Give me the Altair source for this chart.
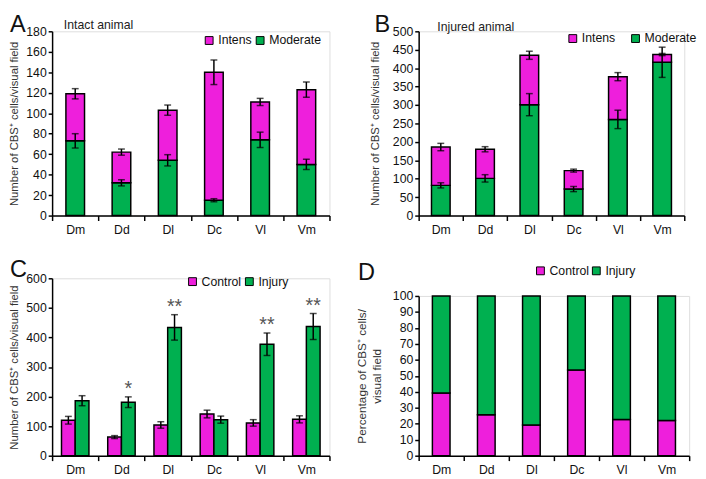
import altair as alt
import pandas as pd

FONT = "Liberation Sans"
MAG = "#EE1FDC"
GREEN = "#00B050"

regions = ["Dm", "Dd", "Dl", "Dc", "Vl", "Vm"]

# Panel A: intact animal
a_moderate = [73, 32, 54, 15, 74, 50]
a_moderate_err = [7, 3, 5.5, 1.5, 7.5, 5]
a_total = [119, 62, 103, 140, 111, 123]
a_total_err = [5, 3, 5, 12, 3.5, 7.5]
a_ticks = [0, 20, 40, 60, 80, 100, 120, 140, 160, 180]

# Panel B: injured animal
b_moderate = [82, 101, 301, 72, 261, 416]
b_moderate_err = [7, 10, 30, 7, 25, 41]
b_total = [186, 180, 435, 122, 377, 437]
b_total_err = [10, 7, 11, 4, 11, 3]
b_ticks = [0, 50, 100, 150, 200, 250, 300, 350, 400, 450, 500]

# Panel C: control vs injury
c_control = [120, 63, 104, 141, 111, 123]
c_control_err = [13, 5, 11, 13, 11, 12]
c_injury = [186, 181, 434, 122, 377, 437]
c_injury_err = [17, 18, 43, 12, 38, 44]
c_stars = ["", "*", "**", "", "**", "**"]
c_ticks = [0, 100, 200, 300, 400, 500, 600]

# Panel D: percentage
d_control = [39.3, 25.7, 19.2, 53.6, 22.7, 22.1]
d_injury = [60.7, 74.3, 80.8, 46.4, 77.3, 77.9]
d_ticks = [0, 10, 20, 30, 40, 50, 60, 70, 80, 90, 100]

YTITLE = "Number of CBS\u207a cells/visual field"


def x_enc():
    return alt.X(
        "region:N",
        sort=regions,
        scale=alt.Scale(domain=regions, paddingInner=0, paddingOuter=0),
        axis=alt.Axis(title=None, labelAngle=0, tickBand="extent", tickSize=5,
                      labelPadding=3, labelFontSize=12.5, labelColor="#111"),
    )


def y_enc(field, domain, ticks, title, tpad):
    return alt.Y(
        field,
        type="quantitative",
        scale=alt.Scale(domain=domain, nice=False),
        axis=alt.Axis(values=ticks, title=title, titlePadding=tpad, tickSize=4,
                      labelPadding=2),
    )


def legend(x, y, domain, colpad):
    return alt.Legend(
        orient="none", legendX=x, legendY=y, direction="horizontal", title=None,
        symbolType="square", symbolSize=64, symbolStrokeColor="black",
        symbolStrokeWidth=1, labelFontSize=12.5, labelColor="#111",
        labelOffset=3, columnPadding=colpad, values=domain,
    )


def label(text, x, y, size=24):
    return alt.Chart(pd.DataFrame({"t": [text]})).mark_text(
        align="left", baseline="top", fontSize=size, font=FONT, color="#111"
    ).encode(text="t:N", x=alt.value(x), y=alt.value(y))


def note(text, x, y):
    return alt.Chart(pd.DataFrame({"t": [text]})).mark_text(
        align="left", baseline="middle", fontSize=12.5, font=FONT, color="#222"
    ).encode(text="t:N", x=alt.value(x), y=alt.value(y))


def stacked_panel(mod, mod_err, tot, tot_err, ticks, domain, w, h, tpad,
                  letter, lpos, notetext, npos, leg, colpad):
    bars = pd.DataFrame({
        "region": regions * 2,
        "series": ["Moderate"] * 6 + ["Intens"] * 6,
        "lo": [0] * 6 + mod,
        "hi": mod + tot,
    })
    errs = pd.DataFrame({
        "region": regions * 2,
        "lo": [m - e for m, e in zip(mod, mod_err)] + [t - e for t, e in zip(tot, tot_err)],
        "hi": [m + e for m, e in zip(mod, mod_err)] + [t + e for t, e in zip(tot, tot_err)],
    })
    sdom = ["Intens", "Moderate"]
    b = alt.Chart(bars).mark_bar(size=19, stroke="black", strokeWidth=1.5).encode(
        x=x_enc(),
        y=y_enc("lo", domain, ticks, YTITLE, tpad),
        y2="hi:Q",
        color=alt.Color("series:N", scale=alt.Scale(domain=sdom, range=[MAG, GREEN]),
                        legend=legend(leg[0], leg[1], sdom, colpad)),
    )
    r = alt.Chart(errs).mark_rule(color="black", strokeWidth=1.5).encode(
        x=x_enc(), y=y_enc("lo", domain, ticks, YTITLE, tpad), y2="hi:Q")
    t1 = alt.Chart(errs).mark_tick(color="black", size=7, thickness=1.5).encode(
        x=x_enc(), y=y_enc("lo", domain, ticks, YTITLE, tpad))
    t2 = alt.Chart(errs).mark_tick(color="black", size=7, thickness=1.5).encode(
        x=x_enc(), y=y_enc("hi", domain, ticks, YTITLE, tpad))
    return alt.layer(b, r, t1, t2, label(letter, *lpos), note(notetext, *npos)).properties(
        width=w, height=h)


A = stacked_panel(a_moderate, a_moderate_err, a_total, a_total_err, a_ticks, [0, 180],
                  283, 188, 6, "A", (-43, -18), "Intact animal", (12, -6), (154, 3), 2)
B = stacked_panel(b_moderate, b_moderate_err, b_total, b_total_err, b_ticks, [0, 500],
                  271, 188, 12, "B", (-45, -18), "Injured animal", (19, -4), (151, 1), 14)

# Panel C
cdf = pd.DataFrame({
    "region": regions * 2,
    "series": ["Control"] * 6 + ["Injury"] * 6,
    "val": c_control + c_injury,
    "lo": [v - e for v, e in zip(c_control, c_control_err)] + [v - e for v, e in zip(c_injury, c_injury_err)],
    "hi": [v + e for v, e in zip(c_control, c_control_err)] + [v + e for v, e in zip(c_injury, c_injury_err)],
    "star": [""] * 6 + c_stars,
})
cdom = ["Control", "Injury"]
c_layers = []
for s, off in (("Control", -7), ("Injury", 7)):
    base = alt.Chart(cdf).transform_filter(alt.datum.series == s)
    c_layers.append(base.mark_bar(size=14, xOffset=off, stroke="black", strokeWidth=1.5).encode(
        x=x_enc(), y=y_enc("val", [0, 600], c_ticks, YTITLE, 6),
        color=alt.Color("series:N", scale=alt.Scale(domain=cdom, range=[MAG, GREEN]),
                        legend=legend(137, -3, cdom, 2))))
    c_layers.append(base.mark_rule(xOffset=off, color="black", strokeWidth=1.5).encode(
        x=x_enc(), y=y_enc("lo", [0, 600], c_ticks, YTITLE, 6), y2="hi:Q"))
    c_layers.append(base.mark_tick(xOffset=off, color="black", size=7, thickness=1.5).encode(
        x=x_enc(), y=y_enc("lo", [0, 600], c_ticks, YTITLE, 6)))
    c_layers.append(base.mark_tick(xOffset=off, color="black", size=7, thickness=1.5).encode(
        x=x_enc(), y=y_enc("hi", [0, 600], c_ticks, YTITLE, 6)))
stars = alt.Chart(cdf).transform_filter(alt.datum.series == "Injury").mark_text(
    xOffset=7, dy=-2, baseline="alphabetic", fontSize=20, font=FONT, color="#555"
).encode(x=x_enc(), y=y_enc("hi", [0, 600], c_ticks, YTITLE, 6), text="star:N")
C = alt.layer(*c_layers, stars, label("C", -43, -20)).properties(width=283, height=181)

# Panel D
ddf = pd.DataFrame({
    "region": regions * 2,
    "series": ["Control"] * 6 + ["Injury"] * 6,
    "lo": [0] * 6 + d_control,
    "hi": d_control + [c + i for c, i in zip(d_control, d_injury)],
})
DTITLE = ["Percentage of CBS\u207a cells/", "visual field"]
D = alt.layer(
    alt.Chart(ddf).mark_bar(size=18, stroke="black", strokeWidth=1.5).encode(
        x=x_enc(),
        y=alt.Y("lo:Q", scale=alt.Scale(domain=[0, 100], nice=False),
                axis=alt.Axis(values=d_ticks, title=DTITLE, titlePadding=9, tickSize=4,
                              labelPadding=2, titleLineHeight=15, titleFontSize=12)),
        y2="hi:Q",
        color=alt.Color("series:N", scale=alt.Scale(domain=cdom, range=[MAG, GREEN]),
                        legend=legend(118, -32, cdom, 1)),
    ),
    label("D", -62, -35),
).properties(width=276, height=163)

col1 = alt.vconcat(A, C, spacing=64, bounds="flush").resolve_scale(
    x="independent", y="independent", color="independent").resolve_legend(color="independent")
col2 = alt.vconcat(B, D, spacing=82, bounds="flush").resolve_scale(
    x="independent", y="independent", color="independent").resolve_legend(color="independent")
chart = alt.hconcat(col1, col2, spacing=24).resolve_scale(
    x="independent", y="independent", color="independent").resolve_legend(
    color="independent").properties(padding=0).configure_view(stroke=None).configure(
    font=FONT).configure_axis(
    grid=False, domainColor="black", tickColor="black", domainWidth=1.5, tickWidth=1.5,
    labelFont=FONT, titleFont=FONT, labelFontSize=12.5, labelColor="#111",
    titleFontSize=11.5, titleFontWeight="normal", titleColor="#333")

chart.save("out.html", embed_options={"renderer": "svg", "actions": False})
